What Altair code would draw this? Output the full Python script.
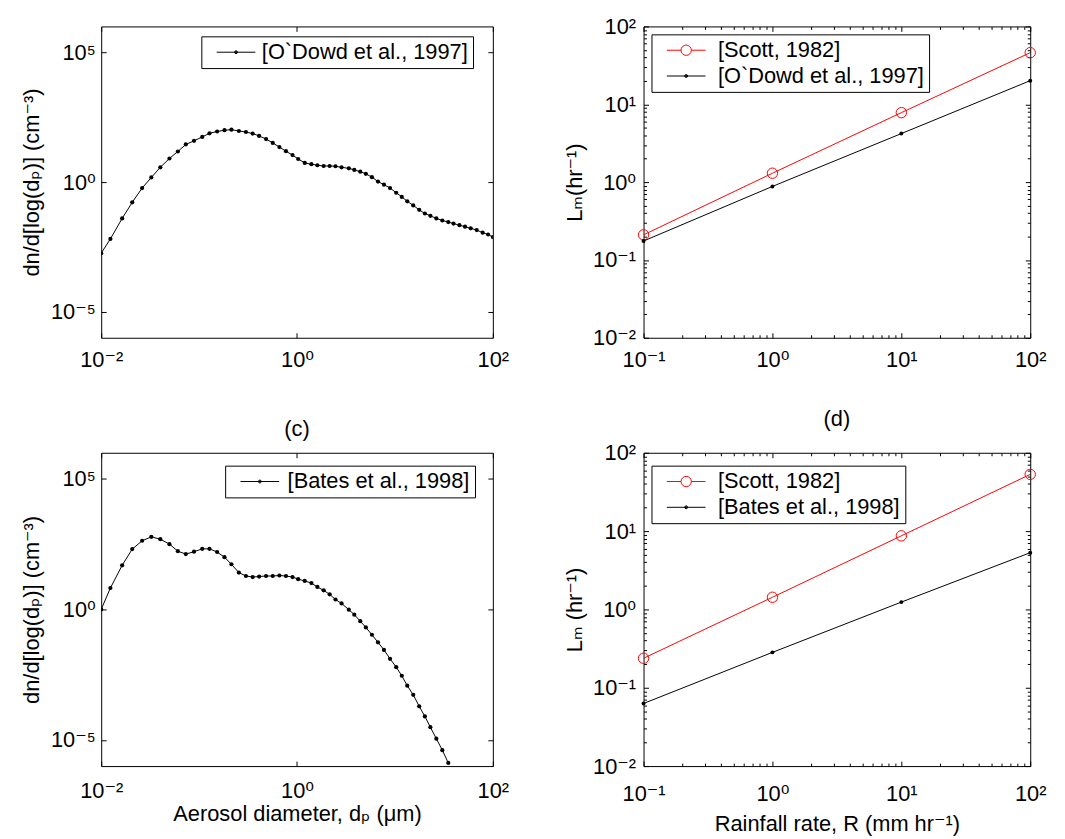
import altair as alt
import pandas as pd

FONT = "Liberation Sans, Arial, DejaVu Sans, sans-serif"

# ---------------- data ----------------
# aerosol diameter grid, log10(d_p / µm)
dp_log10 = [-2.000, -1.906, -1.786, -1.683, -1.582, -1.488, -1.396, -1.303, -1.217, -1.136,
            -1.052, -0.968, -0.894, -0.816, -0.741, -0.670, -0.594, -0.522, -0.453, -0.387,
            -0.316, -0.248, -0.180, -0.113, -0.046, 0.012, 0.079, 0.147, 0.208, 0.272,
            0.333, 0.393, 0.455, 0.529, 0.585, 0.646, 0.703, 0.765, 0.827, 0.888,
            0.950, 1.013, 1.070, 1.126, 1.187, 1.248, 1.306, 1.362, 1.423, 1.484,
            1.545, 1.598, 1.659, 1.716, 1.774, 1.835, 1.896, 1.952, 2.000]
# log10(dn/dlog dp) [O`Dowd et al., 1997]
odowd_log10 = [-2.74, -2.19, -1.40, -0.78, -0.23, 0.18, 0.57, 0.91, 1.18, 1.45,
               1.59, 1.74, 1.88, 1.95, 2.00, 2.02, 1.97, 1.93, 1.87, 1.78,
               1.66, 1.51, 1.35, 1.19, 1.04, 0.89, 0.74, 0.69, 0.65, 0.62,
               0.62, 0.61, 0.57, 0.53, 0.47, 0.40, 0.32, 0.19, 0.02, -0.10,
               -0.23, -0.41, -0.57, -0.74, -0.90, -1.07, -1.21, -1.30, -1.40, -1.48,
               -1.54, -1.60, -1.66, -1.72, -1.78, -1.85, -1.95, -2.02, -2.12]
# log10(dn/dlog dp) [Bates et al., 1998]
bates_log10 = [0.00, 0.82, 1.69, 2.31, 2.63, 2.78, 2.69, 2.50, 2.23, 2.12,
               2.21, 2.32, 2.32, 2.20, 2.00, 1.73, 1.41, 1.28, 1.24, 1.26,
               1.28, 1.28, 1.30, 1.28, 1.24, 1.16, 1.09, 1.01, 0.86, 0.73,
               0.58, 0.38, 0.23, -0.01, -0.20, -0.45, -0.69, -0.97, -1.26, -1.55,
               -1.89, -2.21, -2.54, -2.92, -3.27, -3.71, -4.10, -4.51, -4.95, -5.39,
               -5.88]

rain_rate = [0.1, 1, 10, 100]
scott_b = [0.21, 1.30, 7.8, 46]
odowd_lm = [0.175, 0.88, 4.2, 20.1]
scott_d = [0.238, 1.43, 8.7, 53]
bates_lm = [0.063, 0.283, 1.24, 5.3]

SCOTT = "[Scott, 1982]"
ODOWD = "[O`Dowd et al., 1997]"
BATES = "[Bates et al., 1998]"

# ---------------- helpers ----------------
SUP = str.maketrans("-0123456789", "⁻⁰¹²³⁴⁵⁶⁷⁸⁹")


def pow10_label(e):
    return "10" + str(e).translate(SUP)


def label_expr(exps):
    expr = "''"
    for e in reversed(exps):
        expr = f"round(log(datum.value)/LN10) == {e} ? '{pow10_label(e)}' : {expr}"
    return expr


MAJOR_TEST = "abs(log(datum.value)/LN10 - round(log(datum.value)/LN10)) < 0.001"


def tick_axis(orient, offset, values):
    return alt.Axis(orient=orient, offset=offset, values=values, labels=False, domain=False,
                    grid=False, ticks=True, title=None, tickColor="black", tickWidth=1,
                    tickSize={"condition": {"test": MAJOR_TEST, "value": 5}, "value": 3})


def label_axis(orient, values, exps, pad, title=None, extent=None, title_pad=0):
    kw = dict(orient=orient, values=values, labelExpr=label_expr(exps), ticks=False, tickSize=0,
              domain=False, grid=False, labelPadding=pad, labelFontSize=22, labelFont=FONT,
              labelColor="black", labelOverlap=False, labelFlush=False)
    if orient == "bottom":
        kw["labelAngle"] = 0
    if title is None:
        kw["title"] = None
    else:
        kw.update(title=title, titleFontSize=22, titleFont=FONT, titleColor="black",
                  titleFontWeight="normal", titlePadding=title_pad,
                  minExtent=extent, maxExtent=extent)
    return alt.Axis(**kw)


def legend(x, y, sym_off, lab_off):
    return alt.Legend(title=None, orient="none", legendX=x, legendY=y, strokeColor="black",
                      fillColor="white", padding=5, symbolSize=400, symbolStrokeWidth=1,
                      symbolOpacity=1, symbolOffset=sym_off, labelOffset=lab_off,
                      labelFont=FONT, labelFontSize=22, labelColor="black", labelLimit=500,
                      rowPadding=4, cornerRadius=0,
                      labelExpr="datum.label + '\u00a0\u00a0\u00a0\u00a0'")


LINE_DOT = ("M-1.95,0L1.95,0M-0.15,0A0.15,0.15,0,1,1,0.15,0A0.15,0.15,0,1,1,-0.15,0"
            "M-0.07,0A0.07,0.07,0,1,1,0.07,0A0.07,0.07,0,1,1,-0.07,0")
LINE_CIRCLE = ("M-1.95,0L-0.52,0M0.52,0L1.95,0"
               "M-0.52,0A0.52,0.52,0,1,1,0.52,0A0.52,0.52,0,1,1,-0.52,0")

DN_TITLE = "dn/d[log(dₚ)] (cm⁻³)"


def panel_title(text):
    return alt.Title(text, offset=11, fontSize=22, font=FONT, fontWeight="normal",
                     color="black", frame="group")


def size_panel(ys_log, name, W, H, xlabelpad, title=None, xtitle=None, xextent=None,
               xtitlepad=0, leg_xy=(0, 0), lab_off=15):
    n = len(ys_log)
    df = pd.DataFrame({"dp": [10 ** v for v in dp_log10[:n]],
                       "dn": [10 ** v for v in ys_log],
                       "series": [name] * n})
    xs = alt.Scale(type="log", domain=[1e-2, 1e2], nice=False)
    ys = alt.Scale(type="log", domain=[1e-6, 1e6], nice=False)
    xt = [1e-2, 1, 1e2]
    yt = [1e-5, 1, 1e5]
    base = alt.Chart(df)
    line = base.mark_line(color="black", strokeWidth=1, clip=True).encode(
        x=alt.X("dp:Q", scale=xs,
                axis=label_axis("bottom", xt, [-2, 0, 2], xlabelpad, xtitle, xextent, xtitlepad)),
        y=alt.Y("dn:Q", scale=ys,
                axis=label_axis("left", yt, [-5, 0, 5], 6, DN_TITLE, 45, 13)))
    pts = base.mark_point(shape="circle", filled=True, color="black", size=18, opacity=1,
                          clip=True).encode(
        x=alt.X("dp:Q", scale=xs, axis=tick_axis("top", -H, xt)),
        y=alt.Y("dn:Q", scale=ys, axis=tick_axis("right", -W, yt)))
    leg = legend(leg_xy[0], leg_xy[1], 19, lab_off)
    legl = base.mark_point(opacity=0, filled=False).encode(
        x=alt.X("dp:Q", scale=xs, axis=tick_axis("bottom", -H, xt)),
        y=alt.Y("dn:Q", scale=ys, axis=tick_axis("left", -W, yt)),
        color=alt.Color("series:N", scale=alt.Scale(domain=[name], range=["black"]), legend=leg),
        shape=alt.Shape("series:N", scale=alt.Scale(domain=[name], range=[LINE_DOT]), legend=leg))
    ch = alt.layer(line, pts, legl).resolve_axis(x="independent", y="independent")
    props = dict(width=W, height=H)
    if title:
        props["title"] = panel_title(title)
    return ch.properties(**props)


def rain_panel(scott, other, other_name, W, H, xlabelpad, ytitle, title=None, xtitle=None,
               xextent=None, xtitlepad=0, leg_xy=(8, 8), lab_off=21):
    df = pd.DataFrame({"R": rain_rate + rain_rate, "L": scott + other,
                       "series": [SCOTT] * 4 + [other_name] * 4})
    xs = alt.Scale(type="log", domain=[0.1, 100], nice=False)
    ys = alt.Scale(type="log", domain=[0.01, 100], nice=False)
    xt = [0.1, 1, 10, 100]
    yt = [0.01, 0.1, 1, 10, 100]
    xt_all = [k * 10.0 ** e for e in (-1, 0, 1) for k in range(1, 10)] + [100]
    yt_all = [k * 10.0 ** e for e in (-2, -1, 0, 1) for k in range(1, 10)] + [100]
    base = alt.Chart(df)
    s_base = base.transform_filter(alt.datum.series == SCOTT)
    o_base = base.transform_filter(alt.datum.series == other_name)
    red_line = s_base.mark_line(color="red", strokeWidth=1, clip=True).encode(
        x=alt.X("R:Q", scale=xs,
                axis=label_axis("bottom", xt, [-1, 0, 1, 2], xlabelpad, xtitle, xextent, xtitlepad)),
        y=alt.Y("L:Q", scale=ys,
                axis=label_axis("left", yt, [-2, -1, 0, 1, 2], 8, ytitle, 50, 7.6)))
    red_pts = s_base.mark_point(shape="circle", size=110, color="red", filled=False,
                                strokeWidth=1, opacity=1, clip=False).encode(
        x=alt.X("R:Q", scale=xs, axis=tick_axis("top", -H, xt_all)),
        y=alt.Y("L:Q", scale=ys, axis=tick_axis("right", -W, yt_all)))
    blk_line = o_base.mark_line(color="black", strokeWidth=1, clip=True).encode(
        x=alt.X("R:Q", scale=xs, axis=tick_axis("bottom", -H, xt_all)),
        y=alt.Y("L:Q", scale=ys, axis=tick_axis("left", -W, yt_all)))
    blk_pts = o_base.mark_point(shape="circle", size=16, color="black", filled=True,
                                opacity=1).encode(
        x=alt.X("R:Q", scale=xs, axis=None),
        y=alt.Y("L:Q", scale=ys, axis=None))
    leg = legend(leg_xy[0], leg_xy[1], 19, lab_off)
    legl = base.mark_point(opacity=0, filled=False).encode(
        x=alt.X("R:Q", scale=xs, axis=None),
        y=alt.Y("L:Q", scale=ys, axis=None),
        color=alt.Color("series:N", scale=alt.Scale(domain=[SCOTT, other_name],
                                                    range=["red", "black"]), legend=leg),
        shape=alt.Shape("series:N", scale=alt.Scale(domain=[SCOTT, other_name],
                                                    range=[LINE_CIRCLE, LINE_DOT]), legend=leg))
    ch = alt.layer(red_line, red_pts, blk_line, blk_pts, legl).resolve_axis(
        x="independent", y="independent")
    props = dict(width=W, height=H)
    if title:
        props["title"] = panel_title(title)
    return ch.properties(**props)


pa = size_panel(odowd_log10, ODOWD, 395, 314, 12, leg_xy=(101, 10), lab_off=15)
pb = rain_panel(scott_b, odowd_lm, ODOWD, 390, 314, 12, "Lₘ(hr⁻¹)", leg_xy=(8, 8), lab_off=21)
pc = size_panel(bates_log10, BATES, 395, 316, 15, title="(c)",
                xtitle="Aerosol diameter, dₚ (μm)", xextent=30, xtitlepad=8,
                leg_xy=(125, 13), lab_off=17)
pd_ = rain_panel(scott_d, bates_lm, BATES, 390, 316, 18, "Lₘ (hr⁻¹)", title="(d)",
                 xtitle="Rainfall rate, R (mm hr⁻¹)", xextent=40, xtitlepad=8,
                 leg_xy=(8, 13), lab_off=21)

chart = alt.concat(pa, pb, pc, pd_, columns=2, spacing={"row": 116, "column": 152},
                   bounds="flush").resolve_scale(
    color="independent", shape="independent").resolve_legend(
    color="independent", shape="independent").configure_view(
    stroke="black", strokeWidth=1).configure_axis(
    labelFont=FONT, titleFont=FONT, labelColor="black", titleColor="black",
    titleFontWeight="normal", grid=False).configure_title(
    font=FONT, fontSize=22, fontWeight="normal", color="black").properties(
    padding={"left": 12, "top": 3, "right": 10, "bottom": 5}, background="white")

chart.save("out.html", embed_options={"renderer": "svg", "actions": False})
